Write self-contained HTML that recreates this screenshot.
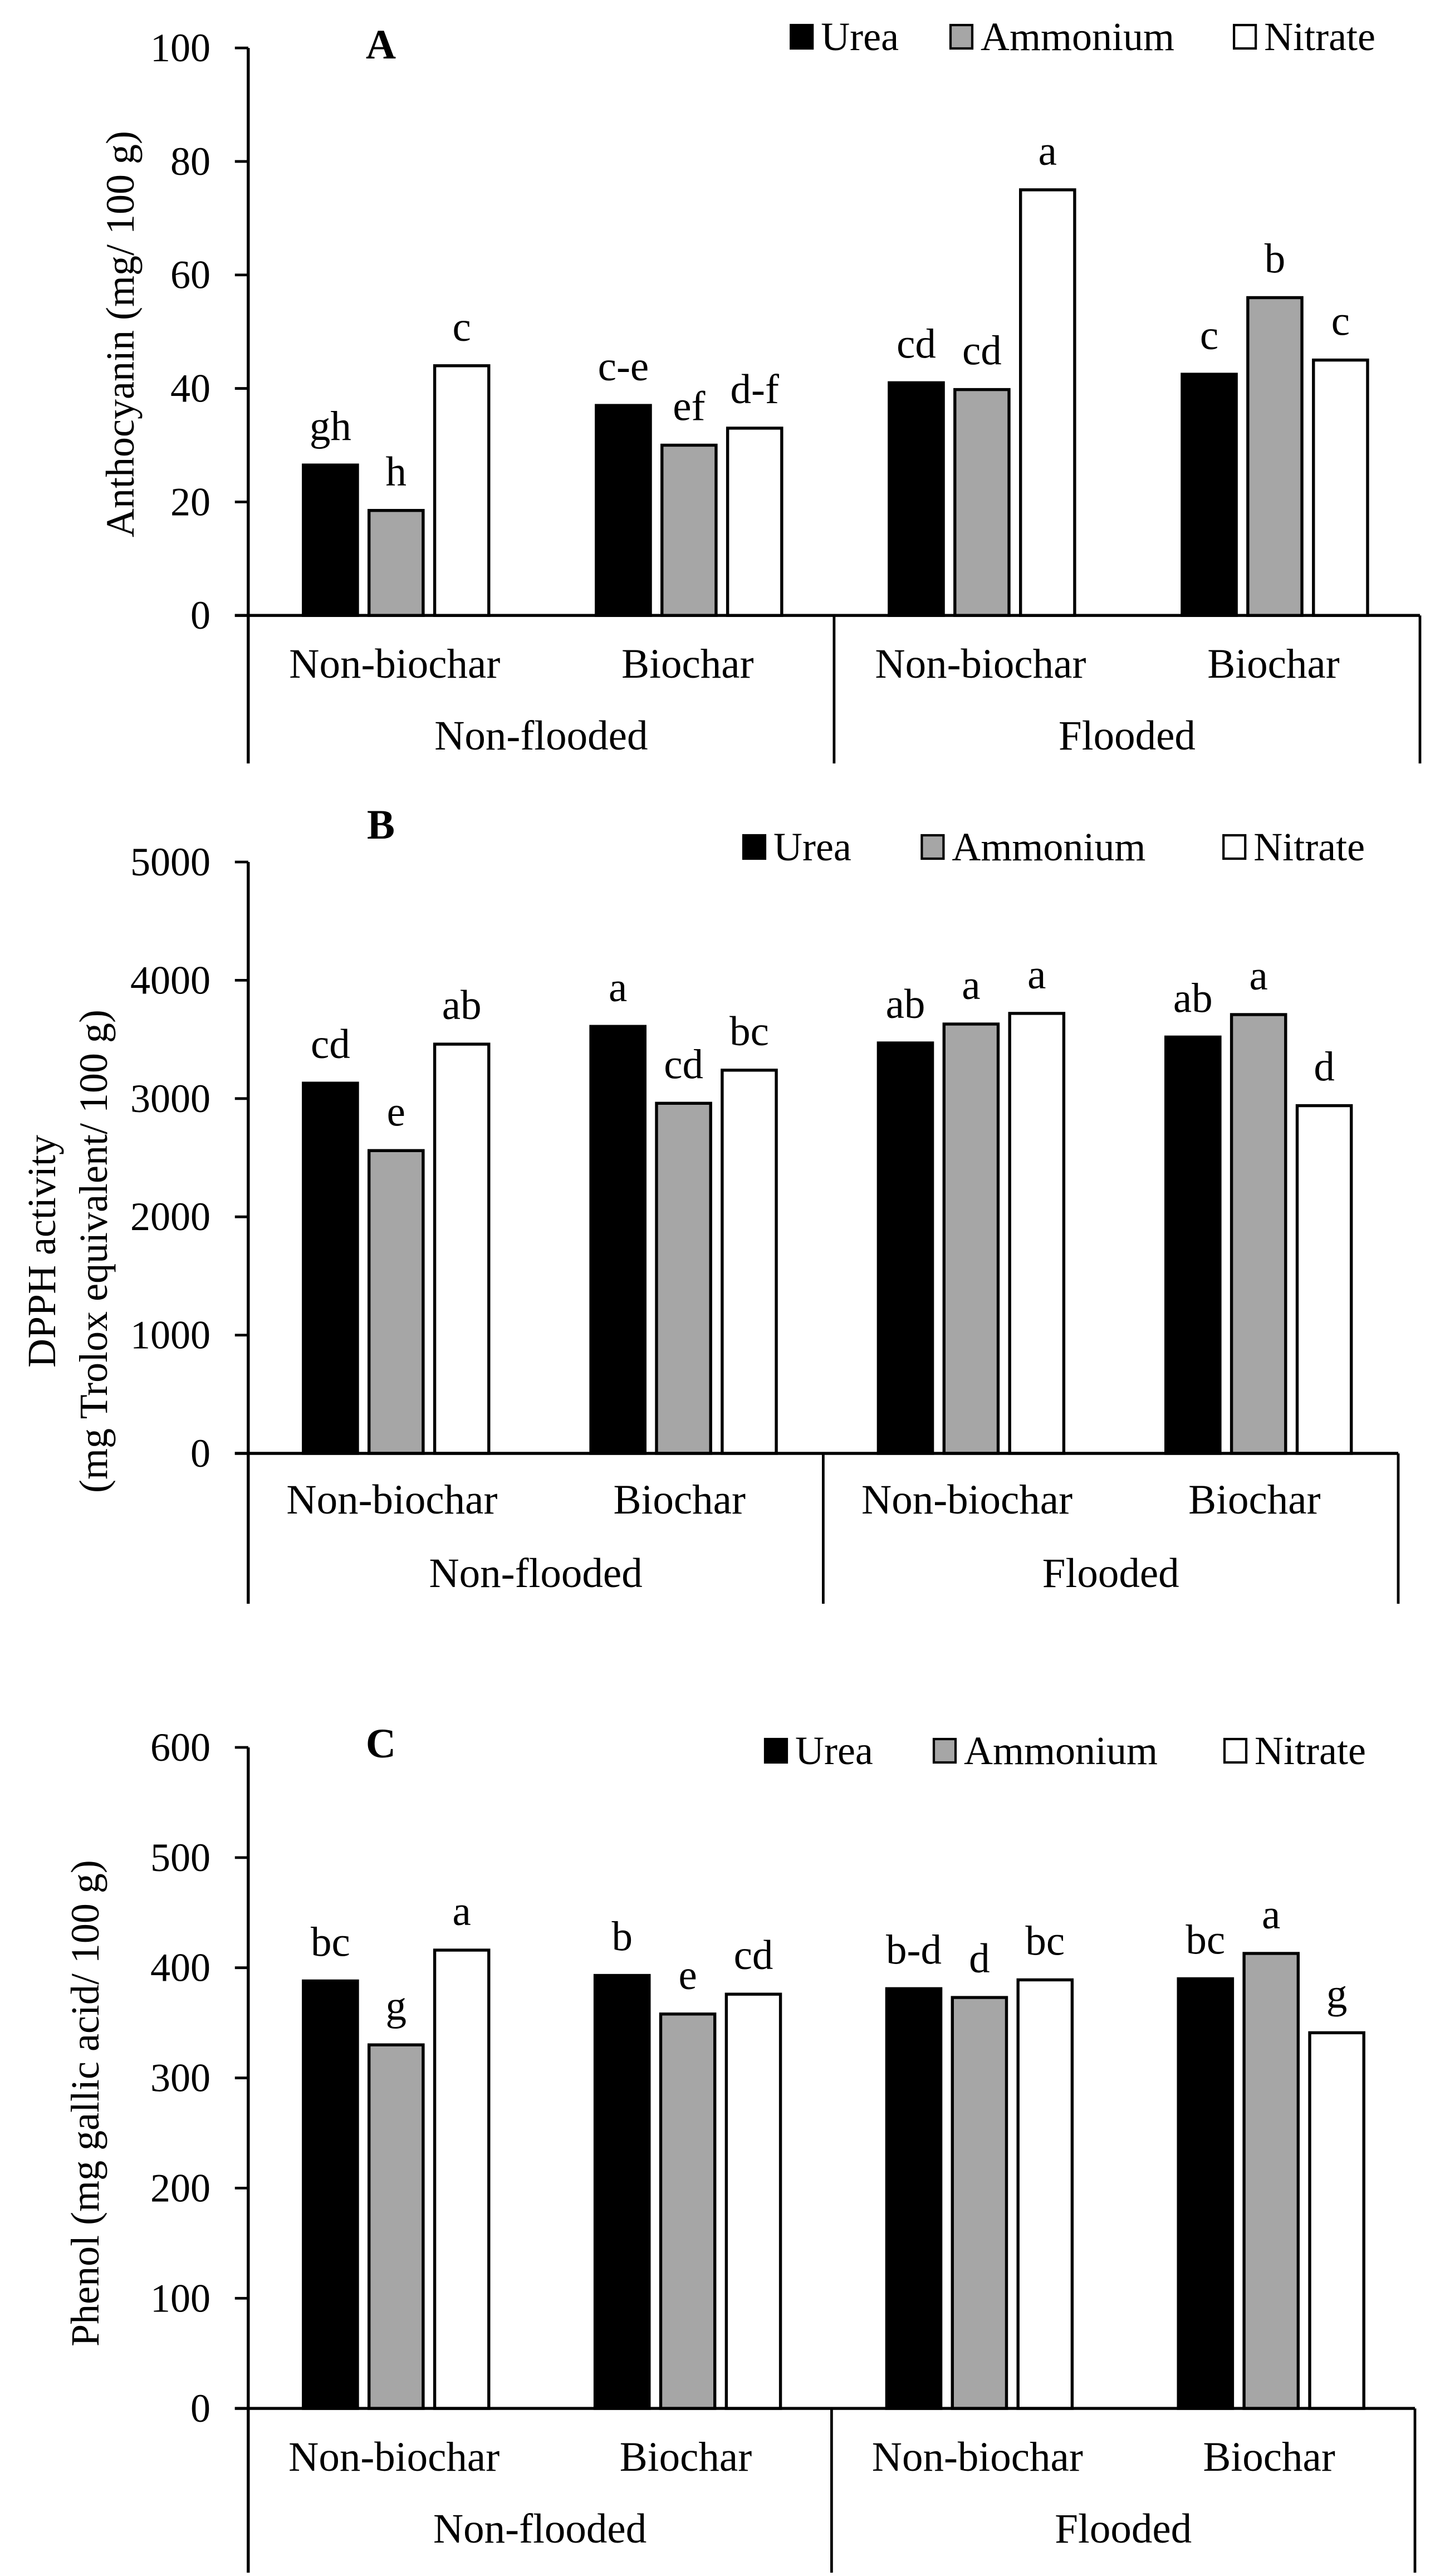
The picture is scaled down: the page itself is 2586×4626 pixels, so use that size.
<!DOCTYPE html>
<html><head><meta charset="utf-8"><style>
html,body{margin:0;padding:0;background:#fff;}
svg{display:block;font-family:"Liberation Serif","DejaVu Serif",serif;}
</style></head>
<body>
<svg id="fig" width="2586" height="4626" viewBox="0 0 862 1542" xmlns="http://www.w3.org/2000/svg"></svg>
<script>
const groups = ["Non-biochar","Biochar","Non-biochar","Biochar"];
const floods = ["Non-flooded","Flooded"];
const seriesNames = ["Urea","Ammonium","Nitrate"];
const aVals = [[26.5,18.5,44],[37,30,33],[41,39.8,75],[42.5,56,45]];
const aLabels = [["gh","h","c"],["c-e","ef","d-f"],["cd","cd","a"],["c","b","c"]];
const aTicks = [0,20,40,60,80,100];
const bVals = [[3130,2560,3460],[3610,2960,3240],[3470,3630,3720],[3520,3710,2940]];
const bLabels = [["cd","e","ab"],["a","cd","bc"],["ab","a","a"],["ab","a","d"]];
const bTicks = [0,1000,2000,3000,4000,5000];
const cVals = [[388,330,416],[393,358,376],[381,373,389],[390,413,341]];
const cLabels = [["bc","g","a"],["b","e","cd"],["b-d","d","bc"],["bc","a","g"]];
const cTicks = [0,100,200,300,400,500,600];

const NS="http://www.w3.org/2000/svg";
const svg=document.getElementById('fig');
const fills=["#000","#a6a6a6","#fff"];
function mk(tag,attrs,parent,txt){const e=document.createElementNS(NS,tag);for(const k in attrs)e.setAttribute(k,attrs[k]);if(txt!==undefined)e.textContent=txt;(parent||svg).appendChild(e);return e;}

function chart(id,letter,vals,labels,ticks,p){
  const g=mk('g',{});
  
  
  const x0=148.6,x1=p.x1,top=p.top,bottom=p.bottom,max=ticks[ticks.length-1];
  const y=v=>bottom-(v/max)*(bottom-top);
  const gw=(x1-x0)/4;
  const bx=(gi,si)=>x0+gi*gw+33+si*39.3;
  vals.forEach((grp,gi)=>grp.forEach((v,si)=>{
    const r=mk('rect',{x:bx(gi,si),y:y(v),width:32.4,height:bottom-y(v),fill:fills[si],stroke:'#000','stroke-width':1.8},g);
    
    
    const t=mk('text',{x:bx(gi,si)+16.2,y:y(v)-15,'text-anchor':'middle','font-size':25},g,labels[gi][si]);
    
    
  }));
  const ya=mk('line',{x1:x0,y1:top,x2:x0,y2:p.axisEnd,stroke:'#000','stroke-width':1.8},g);
  
  
  const xa=mk('line',{x1:x0-8,y1:bottom,x2:x1,y2:bottom,stroke:'#000','stroke-width':1.8},g);
  
  
  mk('line',{x1:x0+2*gw,y1:bottom,x2:x0+2*gw,y2:p.axisEnd,stroke:'#000','stroke-width':1.6},g);
  mk('line',{x1:x1,y1:bottom,x2:x1,y2:p.axisEnd,stroke:'#000','stroke-width':1.6},g);
  ticks.forEach(t=>{
    mk('line',{x1:x0-8,y1:y(t),x2:x0,y2:y(t),stroke:'#000','stroke-width':1.6},g);
    const tl=mk('text',{x:126,y:y(t)+8,'text-anchor':'end','font-size':24},g,t);
    
    
  });
  groups.forEach((c,i)=>{
    const t=mk('text',{x:x0+gw*(i+0.5),y:p.catY,'text-anchor':'middle','font-size':25},g,c);
    
    
  });
  floods.forEach((c,i)=>{
    const t=mk('text',{x:x0+2*gw*(i+0.5),y:p.floodY,'text-anchor':'middle','font-size':25},g,c);
    
    
  });
  const tt=mk('text',{x:228,y:p.titleY,'text-anchor':'middle','font-size':25,'font-weight':'bold'},g,letter);
  
  
  seriesNames.forEach((n,i)=>{
    const sx=p.leg[i];
    const r=mk('rect',{x:sx,y:p.legY-15,width:13,height:14,fill:fills[i],stroke:'#000','stroke-width':1.4},g);
    
    
    const t=mk('text',{x:sx+18,y:p.legY,'font-size':24},g,n);
    
    
  });
  p.ytitle.forEach((l,i)=>{
    const x=p.ytx[i],cy=p.tcy;
    const t=mk('text',{x:x,y:cy,'text-anchor':'middle','font-size':24,transform:`rotate(-90 ${x} ${cy})`},g,l);
    
    
  });
}
chart('a','A',aVals,aLabels,aTicks,{x1:850,top:28.7,bottom:368.4,axisEnd:457,catY:405.6,floodY:448.7,titleY:35,legY:30,leg:[473.4,569,738.7],ytitle:["Anthocyanin (mg/ 100 g)"],ytx:[80],tcy:200});
chart('b','B',bVals,bLabels,bTicks,{x1:837,top:516,bottom:870,axisEnd:960,catY:906,floodY:950,titleY:502,legY:515,leg:[445,551.8,732.4],ytitle:["DPPH activity","(mg Trolox equivalent/ 100 g)"],ytx:[33,64],tcy:749});
chart('c','C',cVals,cLabels,cTicks,{x1:847,top:1046,bottom:1441.7,axisEnd:1540,catY:1479,floodY:1522,titleY:1052,legY:1056,leg:[458,559,733],ytitle:["Phenol (mg gallic acid/ 100 g)"],ytx:[59],tcy:1259});
</script>
</body></html>
